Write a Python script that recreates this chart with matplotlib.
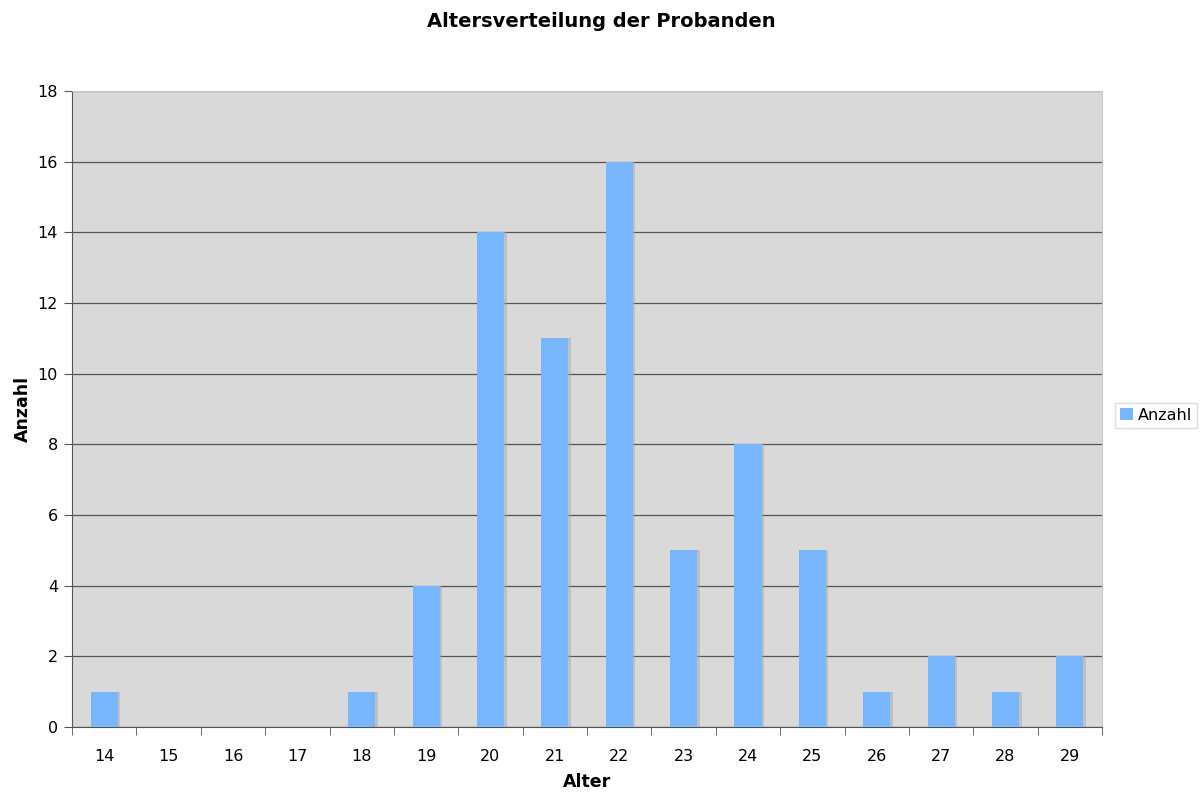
import numpy as np
import matplotlib.pyplot as plt

# Altersverteilung
alter = [14, 15, 16, 17, 18, 19, 20, 21, 22, 23, 24, 25, 26, 27, 28, 29]
anzahl = [1, 0, 0, 0, 1, 4, 14, 11, 16, 5, 8, 5, 1, 2, 1, 2]

plt.rc('font', family='DejaVu Sans')
plt.rc('xtick', labelsize=11.5)
plt.rc('ytick', labelsize=11.5)

fig = plt.figure(figsize=(12.02, 7.94), dpi=100)
ax = fig.add_axes([0.0599, 0.0844, 0.857, 0.801])
ax.set_facecolor('#d9d9d9')

x = np.arange(len(alter))
# leichter Schatten rechts neben den Balken
ax.bar(x + 0.04, anzahl, width=0.42, color='#a8a8a8', alpha=0.5, zorder=2)
ax.bar(x, anzahl, width=0.42, color='#78b6fd', zorder=3, label='Anzahl')

ax.set_xlim(-0.5, len(alter) - 0.5)
ax.set_ylim(0, 18)
ax.set_yticks(range(0, 19, 2))
ax.yaxis.grid(True, color='#555555', lw=0.9)
ax.set_axisbelow(True)

ax.set_xticks(x)
ax.set_xticklabels([str(a) for a in alter])
ax.set_xticks(np.arange(-0.5, len(alter)), minor=True)
ax.tick_params(axis='x', which='major', length=0, pad=16)
ax.tick_params(axis='x', which='minor', length=6, color='#555555')
ax.tick_params(axis='y', length=6, color='#555555', pad=4)

for s in ['top', 'right']:
    ax.spines[s].set_color('#c8c8c8')
for s in ['left', 'bottom']:
    ax.spines[s].set_color('#555555')

ax.set_xlabel('Alter', fontsize=12.5, fontweight='bold', labelpad=6)
ax.set_ylabel('Anzahl', fontsize=12.5, fontweight='bold', labelpad=4)
fig.suptitle('Altersverteilung der Probanden', fontsize=14, fontweight='bold', y=0.985)

leg = ax.legend(loc='center left', bbox_to_anchor=(1.005, 0.49), fontsize=11.5,
                handlelength=0.8, handleheight=0.8, handletextpad=0.3,
                borderpad=0.3, fancybox=False, framealpha=1, edgecolor='#e0e0e0')

fig.savefig('out.png', dpi=100)
